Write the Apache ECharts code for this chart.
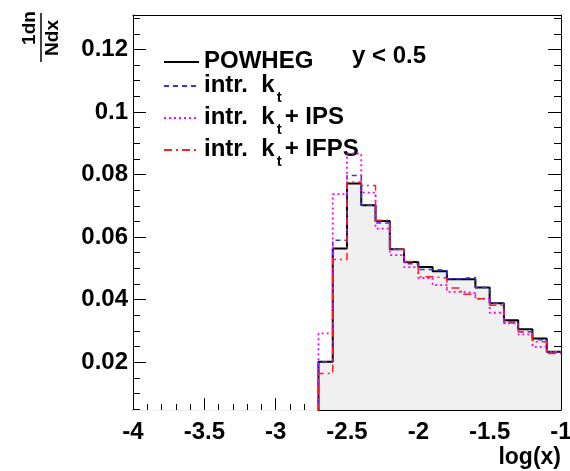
<!DOCTYPE html>
<html>
<head>
<meta charset="utf-8">
<script src="https://cdn.jsdelivr.net/npm/echarts@6/dist/echarts.min.js"></script>
<style>
html,body{margin:0;padding:0;background:#fff;overflow:hidden;}
#c{width:570px;height:471px;}
</style>
</head>
<body>
<div id="c"></div>
<script>
// Bin edges (log(x)) of the non-empty region; bins below -2.7 are empty
const binEdges = [-2.7,-2.6,-2.5,-2.4,-2.3,-2.2,-2.1,-2.0,-1.9,-1.8,-1.7,-1.6,-1.5,-1.4,-1.3,-1.2,-1.1,-1.0];
const xStart = -4;

const powheg  = [0.0201,0.0563,0.0771,0.0702,0.0651,0.0561,0.0520,0.0504,0.0491,0.0465,0.0465,0.0439,0.0388,0.0334,0.0305,0.0276,0.0233];
const intrKt  = [0.0201,0.0590,0.0797,0.0702,0.0645,0.0561,0.0515,0.0496,0.0494,0.0467,0.0471,0.0439,0.0388,0.0326,0.0297,0.0272,0.0233];
const ktIPS   = [0.0292,0.0737,0.0867,0.0742,0.0627,0.0542,0.0504,0.0469,0.0446,0.0425,0.0421,0.0403,0.0358,0.0324,0.0289,0.0249,0.0233];
const ktIFPS  = [0.0164,0.0528,0.0776,0.0765,0.0654,0.0561,0.0522,0.0473,0.0469,0.0437,0.0417,0.0403,0.0382,0.0329,0.0297,0.0265,0.0228];

const xMajor = [-4,-3.5,-3,-2.5,-2,-1.5,-1];
const xMinor = [-3.9,-3.8,-3.7,-3.6,-3.4,-3.3,-3.2,-3.1,-2.9,-2.8,-2.7,-2.6,-2.4,-2.3,-2.2,-2.1,-1.9,-1.8,-1.7,-1.6,-1.4,-1.3,-1.2,-1.1];
const yMajor = [0.02,0.04,0.06,0.08,0.1,0.12];
const yMinor = [0.005,0.01,0.015,0.025,0.03,0.035,0.045,0.05,0.055,0.065,0.07,0.075,0.085,0.09,0.095,0.105,0.11,0.115,0.125,0.13];
const yMin = 0.0047, yMax = 0.131;

function stepData(vals){
  const d = [[xStart, 0]];
  for (let i = 0; i < vals.length; i++) d.push([binEdges[i], vals[i]]);
  d.push([binEdges[binEdges.length-1], vals[vals.length-1]]);
  return d;
}

const FONT = 'Liberation Sans, Arial, Helvetica, sans-serif';
const labelStyle = {fontSize: 24, fontWeight: 'bold', color: '#000', fontFamily: FONT};

const legendText = {
  'POWHEG': '{a|POWHEG}',
  'kt': '{a|intr.  k}{s|t}',
  'ktIPS': '{a|intr.  k}{s|t}{a|+ IPS}',
  'ktIFPS': '{a|intr.  k}{s|t}{a|+ IFPS}'
};

const chart = echarts.init(document.getElementById('c'), null, {renderer: 'canvas'});
const axisLineBlack = {show: true, lineStyle: {color: '#000', width: 1}};

chart.setOption({
  animation: false,
  backgroundColor: '#fff',
  grid: {left: 133, right: 9, top: 15, bottom: 61, containLabel: false, outerBoundsMode: 'none'},
  xAxis: [
    {type: 'value', min: -4, max: -1, position: 'bottom',
     axisLine: axisLineBlack,
     axisTick: {show: true, inside: true, length: 12, customValues: xMajor, lineStyle: {color: '#000', width: 1}},
     axisLabel: Object.assign({customValues: xMajor, margin: 10}, labelStyle),
     splitLine: {show: false},
     name: 'log(x)', nameLocation: 'end', nameGap: 0,
     nameTextStyle: {fontSize: 23, fontWeight: 'bold', color: '#000', fontFamily: FONT, align: 'right', verticalAlign: 'top', padding: [36, 0, 0, 0]}
    },
    {type: 'value', min: -4, max: -1, position: 'bottom',
     axisLine: {show: false},
     axisTick: {show: true, inside: true, length: 6, customValues: xMinor, lineStyle: {color: '#000', width: 1}},
     axisLabel: {show: false}, splitLine: {show: false}},
    {type: 'value', min: -4, max: -1, position: 'top',
     axisLine: axisLineBlack, axisTick: {show: false}, axisLabel: {show: false}, splitLine: {show: false}}
  ],
  yAxis: [
    {type: 'value', min: yMin, max: yMax, position: 'left',
     axisLine: axisLineBlack,
     axisTick: {show: true, inside: true, length: 13, customValues: yMajor, lineStyle: {color: '#000'}},
     axisLabel: Object.assign({customValues: yMajor, margin: 5}, labelStyle),
     splitLine: {show: false}},
    {type: 'value', min: yMin, max: yMax, position: 'left',
     axisLine: {show: false},
     axisTick: {show: true, inside: true, length: 7, customValues: yMinor, lineStyle: {color: '#000'}},
     axisLabel: {show: false}, splitLine: {show: false}},
    {type: 'value', min: yMin, max: yMax, position: 'right',
     axisLine: axisLineBlack,
     axisTick: {show: true, inside: true, length: 13, customValues: yMajor, lineStyle: {color: '#000'}},
     axisLabel: {show: false}, splitLine: {show: false}},
    {type: 'value', min: yMin, max: yMax, position: 'right',
     axisLine: {show: false},
     axisTick: {show: true, inside: true, length: 7, customValues: yMinor, lineStyle: {color: '#000'}},
     axisLabel: {show: false}, splitLine: {show: false}}
  ],
  legend: {
    orient: 'vertical', left: 158, top: 44, itemWidth: 35, itemHeight: 14, itemGap: 0,
    data: ['POWHEG', 'kt', 'ktIPS', 'ktIFPS'],
    formatter: n => legendText[n],
    itemStyle: {opacity: 0},
    textStyle: {
      color: '#000',
      rich: {
        a: {fontSize: 24, fontWeight: 'bold', fontFamily: FONT, color: '#000', lineHeight: 26, verticalAlign: 'top'},
        s: {fontSize: 15, fontWeight: 'bold', fontFamily: FONT, color: '#000', lineHeight: 14, verticalAlign: 'top', padding: [17, 3, 0, 2]}
      }
    }
  },
  graphic: [
    {type: 'text', left: 352, top: 44, style: {text: 'y < 0.5', font: 'bold 24px ' + FONT, fill: '#000'}},
    {type: 'group', x: 41, y: 38, rotation: Math.PI / 2, children: [
      {type: 'text', x: 10, y: -11, style: {text: '1dn', font: 'bold 19px ' + FONT, fill: '#000', align: 'center', verticalAlign: 'middle'}},
      {type: 'line', shape: {x1: -24, y1: 0, x2: 25, y2: 0}, style: {stroke: '#000', lineWidth: 1.5}},
      {type: 'text', x: 0, y: 12, style: {text: 'Ndx', font: 'bold 19px ' + FONT, fill: '#000', align: 'center', verticalAlign: 'middle'}}
    ]}
  ],
  series: [
    {name: 'POWHEG', type: 'line', step: 'end', data: stepData(powheg), symbol: 'none',
     color: '#000', lineStyle: {color: '#000', width: 2},
     areaStyle: {color: '#f0f0f0', opacity: 1, origin: 'start'}, z: 2},
    {name: 'kt', type: 'line', step: 'end', data: stepData(intrKt), symbol: 'none',
     color: '#3030ff', lineStyle: {color: '#3030ff', width: 1.5, type: [5, 4]}, z: 3},
    {name: 'ktIPS', type: 'line', step: 'end', data: stepData(ktIPS), symbol: 'none',
     color: '#ff00ff', lineStyle: {color: '#ff00ff', width: 1.8, type: [2, 3]}, z: 4},
    {name: 'ktIFPS', type: 'line', step: 'end', data: stepData(ktIFPS), symbol: 'none',
     color: '#ff2020', lineStyle: {color: '#ff2020', width: 1.5, type: [8, 4, 2, 4]}, z: 5}
  ]
});
</script>
</body>
</html>
